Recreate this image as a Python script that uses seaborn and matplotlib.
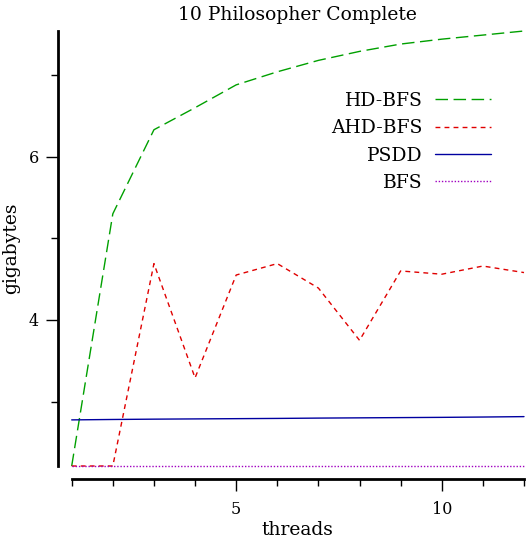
import matplotlib
matplotlib.use("Agg")
import matplotlib.pyplot as plt
import seaborn as sns
from matplotlib.ticker import MultipleLocator

threads = [1, 2, 3, 4, 5, 6, 7, 8, 9, 10, 11, 12]
hd_bfs = [2.21, 5.30, 6.33, 6.60, 6.88, 7.04, 7.18, 7.29, 7.38, 7.44, 7.49, 7.54]
ahd_bfs = [2.21, 2.21, 4.69, 3.29, 4.55, 4.69, 4.39, 3.75, 4.60, 4.56, 4.66, 4.58]
psdd = [2.775, 2.78, 2.784, 2.787, 2.79, 2.793, 2.797, 2.80, 2.803, 2.806, 2.81, 2.815]
bfs = [2.21] * 12

series = ["HD-BFS", "AHD-BFS", "PSDD", "BFS"]
colors = ["#00a000", "#e00000", "#0000a0", "#a000c0"]
styles = [(0, (9, 4)), (0, (3.5, 3)), "-", (0, (1, 1.3))]

sns.set_style("white")
plt.rcParams["font.family"] = ["DejaVu Serif"]
plt.rcParams["text.color"] = "black"
plt.rcParams["axes.labelcolor"] = "black"
plt.rcParams["xtick.color"] = "black"
plt.rcParams["ytick.color"] = "black"

fig = plt.figure(figsize=(5.28, 5.41), dpi=100)
ax = fig.add_axes([71.7 / 528, 1 - 466 / 541, (524 - 71.7) / 528, (466 - 31) / 541])

for name, vals, c, ls in zip(series, [hd_bfs, ahd_bfs, psdd, bfs], colors, styles):
    sns.lineplot(x=threads, y=vals, ax=ax, color=c, linestyle=ls, linewidth=1.0,
                 label=name, clip_on=False)

ax.set_xlim(1, 12)
ax.set_ylim(2.21, 7.54)
ax.xaxis.set_major_locator(MultipleLocator(5))
ax.xaxis.set_minor_locator(MultipleLocator(1))
ax.yaxis.set_major_locator(MultipleLocator(2))
ax.yaxis.set_minor_locator(MultipleLocator(1))
ax.tick_params(which="major", direction="out", length=8.5, width=1.0, labelsize=11.5,
               bottom=True, left=True)
ax.tick_params(axis="x", which="major", pad=7)
ax.tick_params(axis="y", which="major", pad=5.5)
ax.tick_params(which="minor", direction="out", length=5, width=1.0, bottom=True, left=True)

sns.despine(ax=ax, offset=9.6)
for s in ["left", "bottom"]:
    ax.spines[s].set_linewidth(2.0)
    ax.spines[s].set_color("black")

ax.set_title("10 Philosopher Complete", fontsize=13.5, pad=8)
ax.set_xlabel("threads", fontsize=13.5, labelpad=2)
ax.set_ylabel("gigabytes", fontsize=13.5, labelpad=6)

ax.legend(loc="upper right", bbox_to_anchor=(0.927, 0.86), frameon=False, markerfirst=False,
          fontsize=13.5, handlelength=3.0, handletextpad=0.65, borderpad=0, borderaxespad=0,
          labelspacing=0.5)

plt.savefig("out.png", dpi=100)
